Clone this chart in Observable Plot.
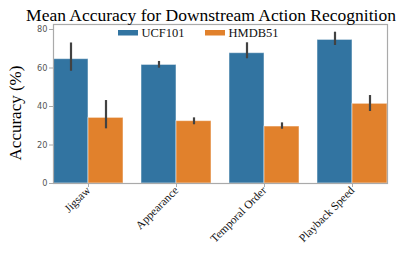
<!DOCTYPE html>
<html><head><meta charset="utf-8">
<script src="https://cdn.jsdelivr.net/npm/d3@7"></script>
<script src="https://cdn.jsdelivr.net/npm/@observablehq/plot@0.6"></script>
<style>body{margin:0;background:#fff}</style>
</head><body><div id="chart"></div>
<script>
const tasks = ["Jigsaw", "Appearance", "Temporal Order", "Playback Speed"];
const datasets = ["UCF101", "HMDB51"];
const ucfMean = [64.6, 61.6, 67.7, 74.6];
const ucfLow  = [58.3, 59.9, 64.8, 71.7];
const ucfHigh = [73.0, 63.4, 73.1, 78.6];
const hmdbMean = [34.1, 32.4, 29.6, 41.4];
const hmdbLow  = [28.4, 30.5, 28.2, 37.4];
const hmdbHigh = [43.1, 34.1, 31.5, 45.7];
const yTicks = [0, 20, 40, 60, 80];
const colors = ["#3274a1", "#e1812c"];

const data = [];
tasks.forEach((t, i) => {
  data.push({task: t, dataset: "UCF101", value: ucfMean[i], lo: ucfLow[i], hi: ucfHigh[i]});
  data.push({task: t, dataset: "HMDB51", value: hmdbMean[i], lo: hmdbLow[i], hi: hmdbHigh[i]});
});

const serif = "'Liberation Serif', 'DejaVu Serif', serif";
const sans = "'DejaVu Sans', sans-serif";

const plot = Plot.plot({
  width: 407, height: 260,
  marginLeft: 43, marginRight: 9, marginTop: 24, marginBottom: 77,
  style: {fontFamily: sans, fontSize: "8px", color: "#444", background: "#fff"},
  fx: {domain: tasks, paddingInner: 0.2, paddingOuter: 0.1, label: null},
  x: {domain: datasets, padding: 0, axis: null},
  y: {domain: [0, 82.6], ticks: yTicks, label: null},
  color: {domain: datasets, range: colors},
  marks: [
    Plot.barY(data, {fx: "task", x: "dataset", y: "value", fill: "dataset",
      stroke: "#ffffff", strokeOpacity: 0.5, strokeWidth: 1}),
    Plot.ruleX(data, {fx: "task", x: "dataset", y1: "lo", y2: "hi", stroke: "#424242", strokeWidth: 2.2}),
    Plot.frame({facet: "super", stroke: "#aaaaaa", strokeWidth: 1.2}),
    Plot.axisY({ticks: yTicks, tickSize: 4, stroke: "#aaa", fontSize: 8.2, fill: "#555", label: null, tickPadding: 2}),
    Plot.axisFx({anchor: "bottom", tickRotate: -45, tickSize: 4, stroke: "#aaa", label: null, tickPadding: 1,
      fontFamily: serif, fontSize: 11.5, fill: "#111", textAnchor: "end"})
  ]
});

const svg = d3.select(plot);
svg.append("text").attr("x", 211).attr("y", 21).attr("text-anchor", "middle")
  .style("font-family", serif).style("font-size", "17.5px").attr("fill", "#000")
  .text("Mean Accuracy for Downstream Action Recognition");
svg.append("text").attr("transform", "translate(21,113) rotate(-90)")
  .attr("text-anchor", "middle").style("font-family", serif).style("font-size", "17px").attr("fill", "#000")
  .text("Accuracy (%)");
const lg = svg.append("g").attr("text-anchor", "start");
const lx = [118, 205];
datasets.forEach((d, i) => {
  lg.append("rect").attr("x", lx[i]).attr("y", 30).attr("width", 20).attr("height", 5.5).attr("fill", colors[i]);
  lg.append("text").attr("x", lx[i] + 23.5).attr("y", 37).attr("text-anchor", "start")
    .style("font-family", serif).style("font-size", "12.5px").attr("fill", "#111").text(d);
});

document.getElementById("chart").appendChild(plot);
</script>
</body></html>
